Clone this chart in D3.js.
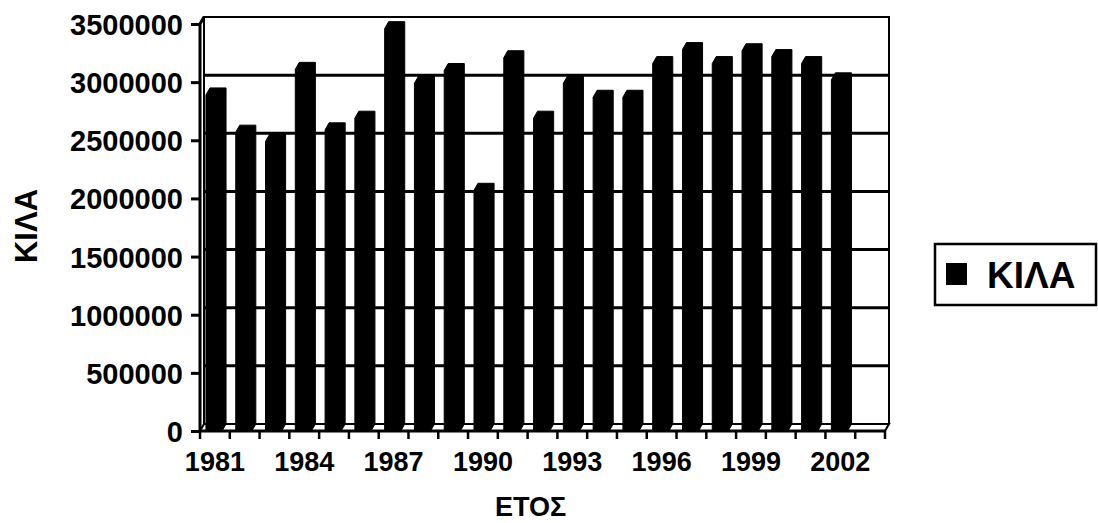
<!DOCTYPE html>
<html><head><meta charset="utf-8">
<script src="https://cdn.jsdelivr.net/npm/d3@7"></script>
<style>
html,body{margin:0;padding:0;background:#fff;}
text{font-family:"Liberation Sans",Arial,sans-serif;font-weight:bold;fill:#000;}
</style></head>
<body><svg id="c" width="1098" height="523"></svg>
<script>
const categories = ["1981","1982","1983","1984","1985","1986","1987","1988","1989","1990","1991","1992","1993","1994","1995","1996","1997","1998","1999","2000","2001","2002","2003"];
const values = [2890000,2570000,2490000,3110000,2590000,2690000,3460000,2990000,3100000,2070000,3210000,2690000,2990000,2870000,2870000,3160000,3280000,3160000,3270000,3220000,3160000,3020000,null];
const yTicks = [0,500000,1000000,1500000,2000000,2500000,3000000,3500000];
const xTickLabels = ["1981","1984","1987","1990","1993","1996","1999","2002"];
const seriesName = "ΚΙΛΑ";
const xTitle = "ΕΤΟΣ";
const yTitle = "ΚΙΛΑ";

(function(){
const svg = d3.select("#c");
const pLeft = 200, pRight = 885, pBase = 431, pTop = 24;
const dx = 4, dy = 7;
const x = d3.scaleBand().domain(categories).range([pLeft, pRight]).padding(0);
const y = d3.scaleLinear().domain([0, 3500000]).range([pBase, pTop]);
const bw = x.bandwidth();

const g = svg.append("g");
g.selectAll("line.grid").data(yTicks.filter(d => d > 0 && d < 3500000)).join("line")
  .attr("x1", pLeft + dx).attr("x2", pRight + dx)
  .attr("y1", d => y(d) - dy).attr("y2", d => y(d) - dy)
  .attr("stroke", "#000").attr("stroke-width", 3);
g.append("path")
  .attr("d", `M${pLeft+dx},${y(0)-dy}V${y(3500000)-dy}H${pRight+dx}V${y(0)-dy}`)
  .attr("fill", "none").attr("stroke", "#000").attr("stroke-width", 2);
g.append("path")
  .attr("d", `M${pLeft},${y(0)}V${y(3500000)}L${pLeft+dx},${y(3500000)-dy}`)
  .attr("fill", "none").attr("stroke", "#000").attr("stroke-width", 3);
g.append("path")
  .attr("d", `M${pLeft},${pBase}H${pRight}L${pRight+dx},${pBase-dy}H${pLeft+dx}Z`)
  .attr("fill", "#fff").attr("stroke", "#000").attr("stroke-width", 2);

const fw = bw * 0.54, off = bw * 0.2;
svg.append("g").selectAll("path.bar")
  .data(categories.map((c, i) => ({c, v: values[i]})).filter(d => d.v != null))
  .join("path")
  .attr("d", d => {
    const x0 = x(d.c) + off, yf = y(d.v);
    return `M${x0},${pBase}V${yf}L${x0+dx},${yf-dy}H${x0+fw+dx}V${pBase-dy}L${x0+fw},${pBase}Z`;
  })
  .attr("fill", "#000").attr("stroke", "#000").attr("stroke-width", 1);

const ya = svg.append("g").attr("transform", `translate(${pLeft},0)`)
  .call(d3.axisLeft(y).tickValues(yTicks).tickFormat(d3.format("d")).tickSize(9).tickPadding(8));
ya.select(".domain").remove();
ya.selectAll(".tick line").attr("stroke", "#000").attr("stroke-width", 3);
ya.selectAll(".tick text").style("font-size", "29px").attr("dy", "0.36em");

const xa = svg.append("g").attr("transform", `translate(0,${pBase})`)
  .call(d3.axisBottom(x).tickFormat(d => xTickLabels.includes(d) ? d : "").tickSize(0).tickPadding(21));
xa.select(".domain").attr("stroke", "#000").attr("stroke-width", 3).attr("d", `M${pLeft},0H${pRight}`);
xa.selectAll(".tick text").style("font-size", "27px");
const bounds = categories.map(c => x(c)).concat([pRight]);
svg.append("g").selectAll("line").data(bounds).join("line")
  .attr("x1", d => d).attr("x2", d => d).attr("y1", pBase).attr("y2", pBase + 8)
  .attr("stroke", "#000").attr("stroke-width", 2.5);

svg.append("text").attr("x", (pLeft + pRight) / 2 - 12).attr("y", 516).attr("text-anchor", "middle")
  .style("font-size", "27px").text(xTitle);
svg.append("text").attr("transform", "translate(37,226) rotate(-90)").attr("text-anchor", "middle")
  .style("font-size", "31px").text(yTitle);

const lg = svg.append("g");
lg.append("rect").attr("x", 935).attr("y", 244).attr("width", 161).attr("height", 61)
  .attr("fill", "#fff").attr("stroke", "#000").attr("stroke-width", 2.5);
lg.append("rect").attr("x", 946).attr("y", 263).attr("width", 21).attr("height", 22).attr("fill", "#000");
lg.append("text").attr("x", 987).attr("y", 288).style("font-size", "37px").text(seriesName);
})();
</script></body></html>
